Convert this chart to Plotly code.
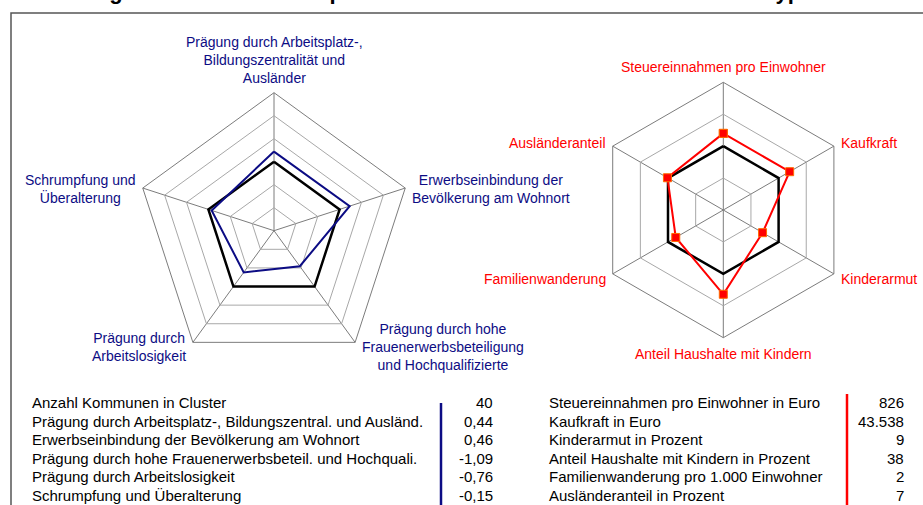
import math
import plotly.graph_objects as go

W, H = 923, 505
FONT = "Arial, Liberation Sans, sans-serif"
NAVY = "#0c0c84"
RED = "#ff0000"

# ---- data -----------------------------------------------------------------
left_axes = [
    "Prägung durch Arbeitsplatz-,<br>Bildungszentralität und<br>Ausländer",
    "Erwerbseinbindung der<br>Bevölkerung am Wohnort",
    "Prägung durch hohe<br>Frauenerwerbsbeteiligung<br>und Hochqualifizierte",
    "Prägung durch<br>Arbeitslosigkeit",
    "Schrumpfung und<br>Überalterung",
]
left_vals = [0.44, 0.46, -1.09, -0.76, -0.15]
left_ref = [0, 0, 0, 0, 0]

right_axes = [
    "Steuereinnahmen pro Einwohner",
    "Kaufkraft",
    "Kinderarmut",
    "Anteil Haushalte mit Kindern",
    "Familienwanderung",
    "Ausländeranteil",
]
right_vals = [120, 120, 71, 132, 86, 101]
right_ref = [100, 100, 100, 100, 100, 100]

n_kommunen = 40
left_table_labels = [
    "Anzahl Kommunen in Cluster",
    "Prägung durch Arbeitsplatz-, Bildungszentral. und Ausländ.",
    "Erwerbseinbindung der Bevölkerung am Wohnort",
    "Prägung durch hohe Frauenerwerbsbeteil. und Hochquali.",
    "Prägung durch Arbeitslosigkeit",
    "Schrumpfung und Überalterung",
]
left_table_values = [str(n_kommunen)] + [f"{v:.2f}".replace(".", ",") for v in left_vals]

right_table_labels = [
    "Steuereinnahmen pro Einwohner in Euro",
    "Kaufkraft in Euro",
    "Kinderarmut in Prozent",
    "Anteil Haushalte mit Kindern in Prozent",
    "Familienwanderung pro 1.000 Einwohner",
    "Ausländeranteil in Prozent",
]
right_table_values = ["826", "43.538", "9", "38", "2", "7"]

title_text = "Abbildung 13: Das Musterbeispiel einer ländlichen Kommune im Clustertyp 5"

# ---- layout geometry (pixels) ---------------------------------------------
L_CX, L_CY, L_R = 274, 230.7, 138
R_CX, R_CY, R_R = 723.3, 210, 127.7
LABEL_SIZE = 14
TABLE_SIZE = 15


def domain(cx, cy, r):
    return dict(x=[(cx - r) / W, (cx + r) / W], y=[1 - (cy + r) / H, 1 - (cy - r) / H])


def closed(seq):
    return list(seq) + [seq[0]]


fig = go.Figure()

# reference (black) and cluster profiles
fig.add_trace(go.Scatterpolar(r=closed(left_ref), theta=closed(left_axes), mode="lines",
                              line=dict(color="black", width=2.5), subplot="polar",
                              showlegend=False, hoverinfo="skip"))
fig.add_trace(go.Scatterpolar(r=closed(left_vals), theta=closed(left_axes), mode="lines+markers",
                              line=dict(color=NAVY, width=2),
                              marker=dict(symbol="square", size=8, color=NAVY),
                              subplot="polar", showlegend=False))
fig.add_trace(go.Scatterpolar(r=closed(right_ref), theta=closed(right_axes), mode="lines",
                              line=dict(color="black", width=2.5), subplot="polar2",
                              showlegend=False, hoverinfo="skip"))
fig.add_trace(go.Scatterpolar(r=closed(right_vals), theta=closed(right_axes), mode="lines+markers",
                              line=dict(color=RED, width=2),
                              marker=dict(symbol="square", size=8, color=RED,
                                          line=dict(color="#ff6a00", width=1)),
                              subplot="polar2", showlegend=False))


def polar_cfg(cx, cy, r, rng, step, cats):
    return dict(
        domain=domain(cx, cy, r),
        gridshape="linear",
        bgcolor="white",
        radialaxis=dict(range=rng, dtick=step, tick0=rng[0], showticklabels=False, ticks="",
                        showline=False, gridcolor="#a8a8a8", gridwidth=1),
        angularaxis=dict(direction="clockwise", rotation=90, showticklabels=False, ticks="",
                         showline=True, linecolor="#7c7c7c", linewidth=1,
                         gridcolor="#7c7c7c", categoryorder="array", categoryarray=cats),
    )


annotations = []


def axis_labels(cx, cy, r, cats, color):
    n = len(cats)
    for i, lab in enumerate(cats):
        a = 2 * math.pi * i / n
        s, c = math.sin(a), math.cos(a)
        vx, vy = cx + r * s, cy - r * c
        nlines = lab.count("<br>") + 1
        if s > 0.1:
            xa, ya, xs = "left", "middle", 5
        elif s < -0.1:
            xa, ya, xs = "right", "middle", -5
        else:
            xa, ya, xs = "center", ("bottom" if c > 0 else "top"), 0
        if ya == "middle":
            ys = 3 - 4 * (nlines - 1) if c > 0 else -5
        elif ya == "bottom":
            ys = 5
        else:
            ys = -6
        annotations.append(dict(x=vx / W, y=1 - vy / H, xref="paper", yref="paper",
                                text=lab, showarrow=False, xanchor=xa, yanchor=ya,
                                xshift=xs, yshift=ys, align="center",
                                font=dict(family=FONT, size=LABEL_SIZE, color=color)))


axis_labels(L_CX, L_CY, L_R, left_axes, NAVY)
axis_labels(R_CX, R_CY, R_R, right_axes, RED)

# tables
ROW0, ROWSTEP = 402.5, 18.6
for i in range(len(left_table_labels)):
    y = 1 - (ROW0 + i * ROWSTEP) / H
    for x, txt, anchor in [(30, left_table_labels[i], "left"),
                           (495, left_table_values[i], "right"),
                           (547, right_table_labels[i], "left"),
                           (906, right_table_values[i], "right")]:
        annotations.append(dict(x=x / W, y=y, xref="paper", yref="paper", text=txt,
                                showarrow=False, xanchor=anchor, yanchor="middle",
                                font=dict(family=FONT, size=TABLE_SIZE, color="black")))

# title, cut off by the top edge like in the scan
annotations.append(dict(x=12 / W, y=1, xref="paper", yref="paper", text=f"<b>{title_text}</b>",
                        showarrow=False, xanchor="left", yanchor="bottom", yshift=-6.5,
                        font=dict(family=FONT, size=22, color="black")))

shapes = [
    dict(type="rect", xref="paper", yref="paper", x0=11 / W, x1=1.02, y0=-0.02, y1=1 - 13 / H,
         line=dict(color="#555555", width=1.5)),
    dict(type="line", xref="paper", yref="paper", x0=441 / W, x1=441 / W, y0=-0.02, y1=1 - 403 / H,
         line=dict(color=NAVY, width=2.5)),
    dict(type="line", xref="paper", yref="paper", x0=847 / W, x1=847 / W, y0=-0.02, y1=1 - 394 / H,
         line=dict(color=RED, width=2.5)),
]

fig.update_layout(
    width=W, height=H, autosize=False,
    margin=dict(l=0, r=0, t=0, b=0),
    paper_bgcolor="white", plot_bgcolor="white",
    polar=polar_cfg(L_CX, L_CY, L_R, [-3, 3], 1, left_axes),
    polar2=polar_cfg(R_CX, R_CY, R_R, [0, 200], 50, right_axes),
    annotations=annotations, shapes=shapes,
    font=dict(family=FONT),
)

fig.write_html("out.html", config={"displayModeBar": False},
               post_script="document.body.style.margin='0px';"
                           "document.body.style.overflow='hidden';")
